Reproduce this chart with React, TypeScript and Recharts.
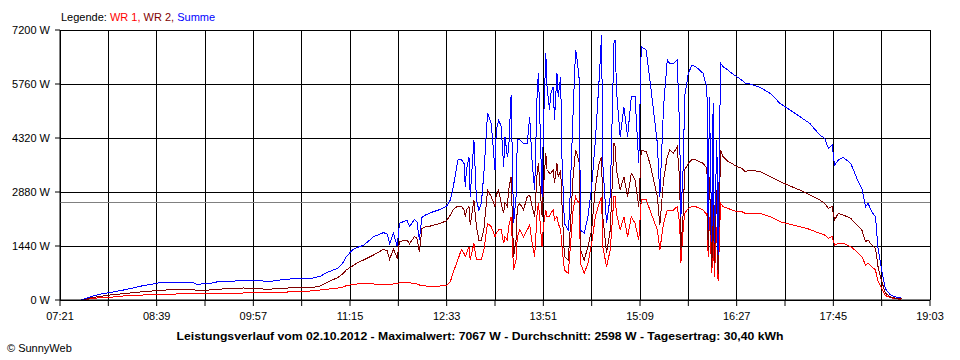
import React from "react";
import {
  LineChart,
  Line,
  XAxis,
  YAxis,
  CartesianGrid,
  ReferenceLine,
} from "recharts";

// Tagesverlauf 02.10.2012 (Werte in W)
const zeit = [
  "07:38", "07:45", "07:53", "08:01", "08:15", "08:28", "08:42", "08:55",
  "09:08", "09:11", "09:22", "09:30", "09:36", "09:49", "10:02", "10:08",
  "10:16", "10:29", "10:43", "10:51", "10:56", "11:05", "11:09", "11:12",
  "11:17", "11:21", "11:26", "11:34", "11:42", "11:45", "11:47", "11:50",
  "11:53", "11:55", "12:01", "12:03", "12:07", "12:09", "12:11", "12:13",
  "12:16", "12:20", "12:28", "12:33", "12:36", "12:38", "12:42", "12:44",
  "12:45", "12:47", "12:48", "12:49", "12:51", "12:52", "12:55", "12:57",
  "12:59", "13:01", "13:03", "13:06", "13:09", "13:12", "13:13", "13:15",
  "13:17", "13:19", "13:20", "13:22", "13:23", "13:25", "13:27", "13:29",
  "13:30", "13:32", "13:35", "13:38", "13:40", "13:42", "13:44", "13:46",
  "13:47", "13:48", "13:50", "13:51", "13:53", "13:54", "13:56", "13:57",
  "13:59", "14:00", "14:02", "14:03", "14:05", "14:06", "14:08", "14:11",
  "14:12", "14:15", "14:17", "14:18", "14:20", "14:21", "14:24", "14:27",
  "14:30", "14:33", "14:36", "14:38", "14:39", "14:42", "14:45", "14:48",
  "14:49", "14:50", "14:53", "14:56", "14:59", "15:02", "15:05", "15:08",
  "15:10", "15:14", "15:17", "15:23", "15:25", "15:28", "15:31", "15:33",
  "15:36", "15:39", "15:41", "15:42", "15:44", "15:45", "15:48", "15:51",
  "15:54", "15:57", "16:00", "16:02", "16:03", "16:04", "16:05", "16:07",
  "16:08", "16:09", "16:11", "16:12", "16:14", "16:16", "16:20", "16:23",
  "16:27", "16:31", "16:34", "16:38", "16:46", "16:54", "17:02", "17:10",
  "17:18", "17:26", "17:34", "17:38", "17:41", "17:44", "17:46", "17:49",
  "17:53", "17:59", "18:04", "18:08", "18:11", "18:13", "18:16", "18:19",
  "18:21", "18:24", "18:27", "18:31", "18:36", "18:40",
];

const wr1 = [
  0, 30, 60, 71, 116, 133, 151, 160,
  169, 160, 169, 178, 178, 187, 196, 196,
  196, 222, 240, 267, 284, 320, 338, 382,
  409, 427, 427, 427, 409, 409, 409, 427,
  427, 462, 462, 462, 440, 430, 400, 390,
  373, 373, 373, 382, 489, 711, 1067, 1262,
  1333, 1244, 1156, 1244, 1422, 1067, 1511, 1067,
  1067, 1067, 1333, 2044, 1956, 1689, 1778, 1867,
  1867, 1511, 1689, 1600, 1956, 2222, 800, 1067,
  1689, 1867, 1689, 1867, 2000, 1511, 1156, 2311,
  2578, 2222, 1422, 1956, 2400, 2222, 2222, 2311,
  2400, 2133, 2222, 2044, 1867, 1422, 800, 711,
  1067, 2400, 2756, 2667, 2578, 978, 711, 978,
  1511, 2222, 2578, 2756, 1422, 889, 1333, 2756,
  2756, 2311, 1867, 2222, 1689, 2222, 2044, 1600,
  2667, 2667, 2400, 1867, 1333, 2044, 2400, 2400,
  2400, 2489, 2044, 1000, 1956, 2311, 2444, 2489,
  2489, 2444, 2400, 2311, 2311, 1156, 2222, 711,
  2133, 622, 1956, 500, 2578, 2489, 2444, 2400,
  2356, 2356, 2311, 2311, 2311, 2222, 2089, 2018,
  1956, 1884, 1778, 1733, 1644, 1689, 1467, 1511,
  1511, 1422, 1289, 1156, 933, 978, 889, 800,
  500, 320, 120, 60, 30, 20,
];

const wr2 = [
  0, 50, 95, 133, 178, 222, 258, 284,
  284, 260, 267, 290, 302, 320, 302, 284,
  302, 329, 320, 373, 462, 596, 693, 800,
  907, 996, 1067, 1200, 1351, 1310, 1084, 1360,
  1120, 1556, 1600, 1500, 1689, 1650, 1289, 1900,
  1956, 1973, 2044, 2116, 2267, 2400, 2507, 2480,
  2489, 2400, 2222, 2400, 2489, 2000, 2667, 1956,
  1600, 1600, 1867, 2933, 2756, 2489, 2800, 2933,
  2578, 2311, 2600, 2489, 2933, 3289, 1156, 1600,
  2489, 2578, 2400, 2756, 2800, 2489, 2222, 3378,
  3644, 3200, 2222, 2933, 3911, 3467, 3378, 3378,
  3467, 3111, 3644, 3289, 3467, 2578, 1156, 1067,
  1511, 3289, 4000, 3911, 3644, 1333, 1067, 1422,
  1867, 3022, 3644, 3822, 2222, 1244, 1867, 4178,
  4089, 3467, 2933, 3289, 2756, 3378, 3200, 2489,
  4000, 3956, 3644, 2756, 2000, 3200, 3822, 4000,
  3911, 4089, 3200, 1333, 2400, 3467, 3644, 3751,
  3733, 3689, 3644, 3556, 3511, 1333, 3289, 889,
  3111, 978, 2933, 700, 4000, 3822, 3689, 3644,
  3556, 3511, 3422, 3467, 3422, 3289, 3156, 3040,
  2933, 2800, 2667, 2578, 2444, 2489, 2133, 2311,
  2267, 2178, 2000, 1867, 1556, 1600, 1467, 1378,
  900, 500, 180, 80, 40, 30,
];

const summe = [
  0, 80, 155, 195, 284, 382, 462, 480,
  480, 418, 444, 498, 480, 533, 533, 480,
  524, 569, 569, 631, 729, 844, 978, 1156,
  1333, 1404, 1458, 1689, 1796, 1760, 1493, 1780,
  1440, 2044, 2133, 1956, 2150, 2089, 1600, 2200,
  2267, 2329, 2418, 2507, 2667, 2951, 3733, 3751,
  3733, 3644, 3022, 3467, 3822, 2756, 4267, 2667,
  2400, 2578, 3378, 4978, 4711, 3467, 4533, 4800,
  4622, 3556, 4356, 3822, 4000, 5467, 2044, 2756,
  4267, 4267, 4178, 4178, 4889, 3644, 2933, 5511,
  6044, 5067, 2756, 4533, 6578, 5689, 5067, 5511,
  5689, 4800, 6044, 5422, 5956, 3822, 2044, 1867,
  2222, 4978, 6667, 6489, 5867, 1867, 1778, 2222,
  3022, 4267, 5867, 7067, 3644, 2044, 2756, 6844,
  6933, 5600, 4356, 5156, 4356, 5422, 5422, 3644,
  6756, 6667, 5867, 4178, 2756, 5156, 6400, 6311,
  6311, 6400, 4533, 2222, 3644, 5422, 6044, 6267,
  6222, 6133, 6044, 5778, 5689, 1867, 5422, 1556,
  5244, 1511, 4267, 1200, 6311, 6222, 6133, 6044,
  5956, 5867, 5778, 5760, 5671, 5511, 5244, 5067,
  4889, 4711, 4400, 4311, 4044, 4133, 3600, 3733,
  3804, 3644, 3244, 2978, 2489, 2578, 2356, 2222,
  1400, 800, 300, 140, 70, 50,
];

const xTicks = [
  "07:21", "08:00", "08:39", "09:18", "09:57", "10:36", "11:15", "11:54",
  "12:33", "13:12", "13:51", "14:30", "15:09", "15:48", "16:27", "17:06",
  "17:45", "18:24", "19:03",
];
const xLabels = [
  "07:21", "08:39", "09:57", "11:15", "12:33", "13:51", "15:09", "16:27",
  "17:45", "19:03",
];
const yTicks = [0, 1440, 2880, 4320, 5760, 7200];
const durchschnitt = 2598;

const toMin = (t: string) => {
  const [h, m] = t.split(":").map(Number);
  return h * 60 + m;
};
const fmt = (v: number) => {
  const h = Math.floor(v / 60);
  const m = v % 60;
  return `${String(h).padStart(2, "0")}:${String(m).padStart(2, "0")}`;
};

const rows = zeit.map((t, i) => ({
  t: toMin(t),
  wr1: wr1[i],
  wr2: wr2[i],
  summe: summe[i],
}));

const FONT = "'Liberation Sans', Arial, sans-serif";
const tickStyle = { fontFamily: FONT, fontSize: 11, fill: "#000" };

const App = () => {
  return (
    <div
      style={{
        position: "absolute",
        left: 0,
        top: 0,
        width: 960,
        height: 360,
        background: "#fff",
      }}
    >
      <LineChart
        width={960}
        height={360}
        data={rows}
        margin={{ top: 30, right: 30, bottom: 40, left: 0 }}
      >
        <CartesianGrid stroke="#000" strokeWidth={1} shapeRendering="crispEdges" />
        <XAxis
          dataKey="t"
          type="number"
          domain={[toMin("07:21"), toMin("19:03")]}
          ticks={xTicks.map(toMin)}
          interval={0}
          height={20}
          tickSize={6}
          tickMargin={6}
          tick={tickStyle}
          tickLine={{ stroke: "#000" }}
          axisLine={{ stroke: "#000" }}
          tickFormatter={(v: number) =>
            xLabels.includes(fmt(v)) ? fmt(v) : ""
          }
        />
        <YAxis
          type="number"
          domain={[0, 7200]}
          ticks={yTicks}
          interval={0}
          width={60}
          tickSize={5}
          tickMargin={5}
          tick={tickStyle}
          tickLine={{ stroke: "#000" }}
          axisLine={{ stroke: "#000" }}
          tickFormatter={(v: number) => `${v} W`}
        />
        <ReferenceLine y={durchschnitt} stroke="#808080" strokeWidth={1} shapeRendering="crispEdges" />
        <Line
          dataKey="wr1"
          stroke="#ff0000"
          strokeWidth={1}
          dot={false}
          shapeRendering="crispEdges"
          isAnimationActive={false}
        />
        <Line
          dataKey="wr2"
          stroke="#800000"
          strokeWidth={1}
          dot={false}
          shapeRendering="crispEdges"
          isAnimationActive={false}
        />
        <Line
          dataKey="summe"
          stroke="#0000ff"
          strokeWidth={1}
          dot={false}
          shapeRendering="crispEdges"
          isAnimationActive={false}
        />
      </LineChart>

      <svg
        width={960}
        height={360}
        style={{ position: "absolute", left: 0, top: 0, pointerEvents: "none" }}
      >
        <text x={61} y={21} fontFamily={FONT} fontSize={11}>
          <tspan fill="#000">Legende: </tspan>
          <tspan fill="#ff0000">WR 1, </tspan>
          <tspan fill="#800000">WR 2, </tspan>
          <tspan fill="#0000ff">Summe</tspan>
        </text>
        <text
          x={480}
          y={340}
          textAnchor="middle"
          fontFamily={FONT}
          fontSize={11}
          fontWeight="bold"
          textLength={607}
          lengthAdjust="spacingAndGlyphs"
        >
          Leistungsverlauf vom 02.10.2012 - Maximalwert: 7067 W - Durchschnitt: 2598 W - Tagesertrag: 30,40 kWh
        </text>
        <text x={7} y={352} fontFamily={FONT} fontSize={11}>
          © SunnyWeb
        </text>
      </svg>
    </div>
  );
};

export default App;
